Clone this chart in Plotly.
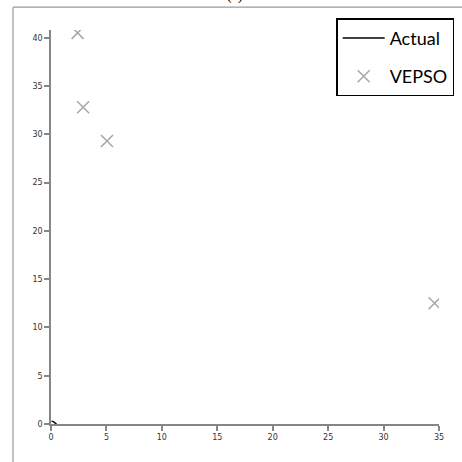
import plotly.graph_objects as go

# Data
actual_x = [0.05, 0.2, 0.5]
actual_y = [0.3, 0.25, 0.0]
vepso_x = [2.4, 2.9, 5.05, 34.6]
vepso_y = [40.5, 32.8, 29.3, 12.5]
x_ticks = [0, 5, 10, 15, 20, 25, 30, 35]
y_ticks = [0, 5, 10, 15, 20, 25, 30, 35, 40]

axis_col = "#868686"
border_col = "#9a9a9a"

fig = go.Figure()
fig.add_trace(go.Scatter(x=actual_x, y=actual_y, mode="lines", name="Actual",
                         line=dict(color="black", width=1.5), legendgroup="a"))
fig.add_trace(go.Scatter(x=vepso_x, y=vepso_y, mode="markers", name="VEPSO",
                         marker=dict(symbol="x-thin", size=12, color="#a6a6a6",
                                     line=dict(color="#a6a6a6", width=1.5)),
                         legendgroup="b"))

fig.update_layout(
    autosize=False,
    width=462, height=462,
    margin=dict(l=51, r=23, t=30, b=38, autoexpand=False),
    paper_bgcolor="white", plot_bgcolor="white",
    showlegend=True,
    legend=dict(x=0.735, y=1.03, xanchor="left", yanchor="top",
                bordercolor="black", borderwidth=1.5, bgcolor="white",
                font=dict(family="Lato", size=18, color="black"),
                traceorder="grouped", tracegroupgap=12,
                itemwidth=42),
    xaxis=dict(range=[0, 35], tickvals=x_ticks, showgrid=False, zeroline=False,
               showline=True, linecolor=axis_col, linewidth=1.5,
               ticks="outside", ticklen=5, tickcolor=axis_col, tickwidth=1.5,
               automargin=False,
               tickfont=dict(family="DejaVu Sans", size=8, color="#333")),
    yaxis=dict(range=[0, 40.8], tickvals=y_ticks, showgrid=False, zeroline=False,
               showline=True, linecolor=axis_col, linewidth=1.5,
               ticks="outside", ticklen=5, tickcolor=axis_col, tickwidth=1.5,
               automargin=False,
               tickfont=dict(family="DejaVu Sans", size=8, color="#333")),
    shapes=[
        dict(type="line", xref="paper", yref="paper",
             x0=-0.098, x1=1.2, y0=1.058, y1=1.058,
             line=dict(color=border_col, width=1.2), layer="below"),
        dict(type="line", xref="paper", yref="paper",
             x0=-0.098, x1=-0.098, y0=-0.2, y1=1.058,
             line=dict(color=border_col, width=1.2), layer="below"),
    ],
    annotations=[dict(text="(a)", xref="paper", yref="paper", x=0.474, y=1.061,
                      xanchor="center", yanchor="bottom", showarrow=False,
                      font=dict(family="Liberation Serif", size=14, color="black"))],
)

fig.write_html("out.html",
               config={"displayModeBar": False, "responsive": False},
               post_script="document.body.style.margin='0';document.body.style.overflow='hidden';")
